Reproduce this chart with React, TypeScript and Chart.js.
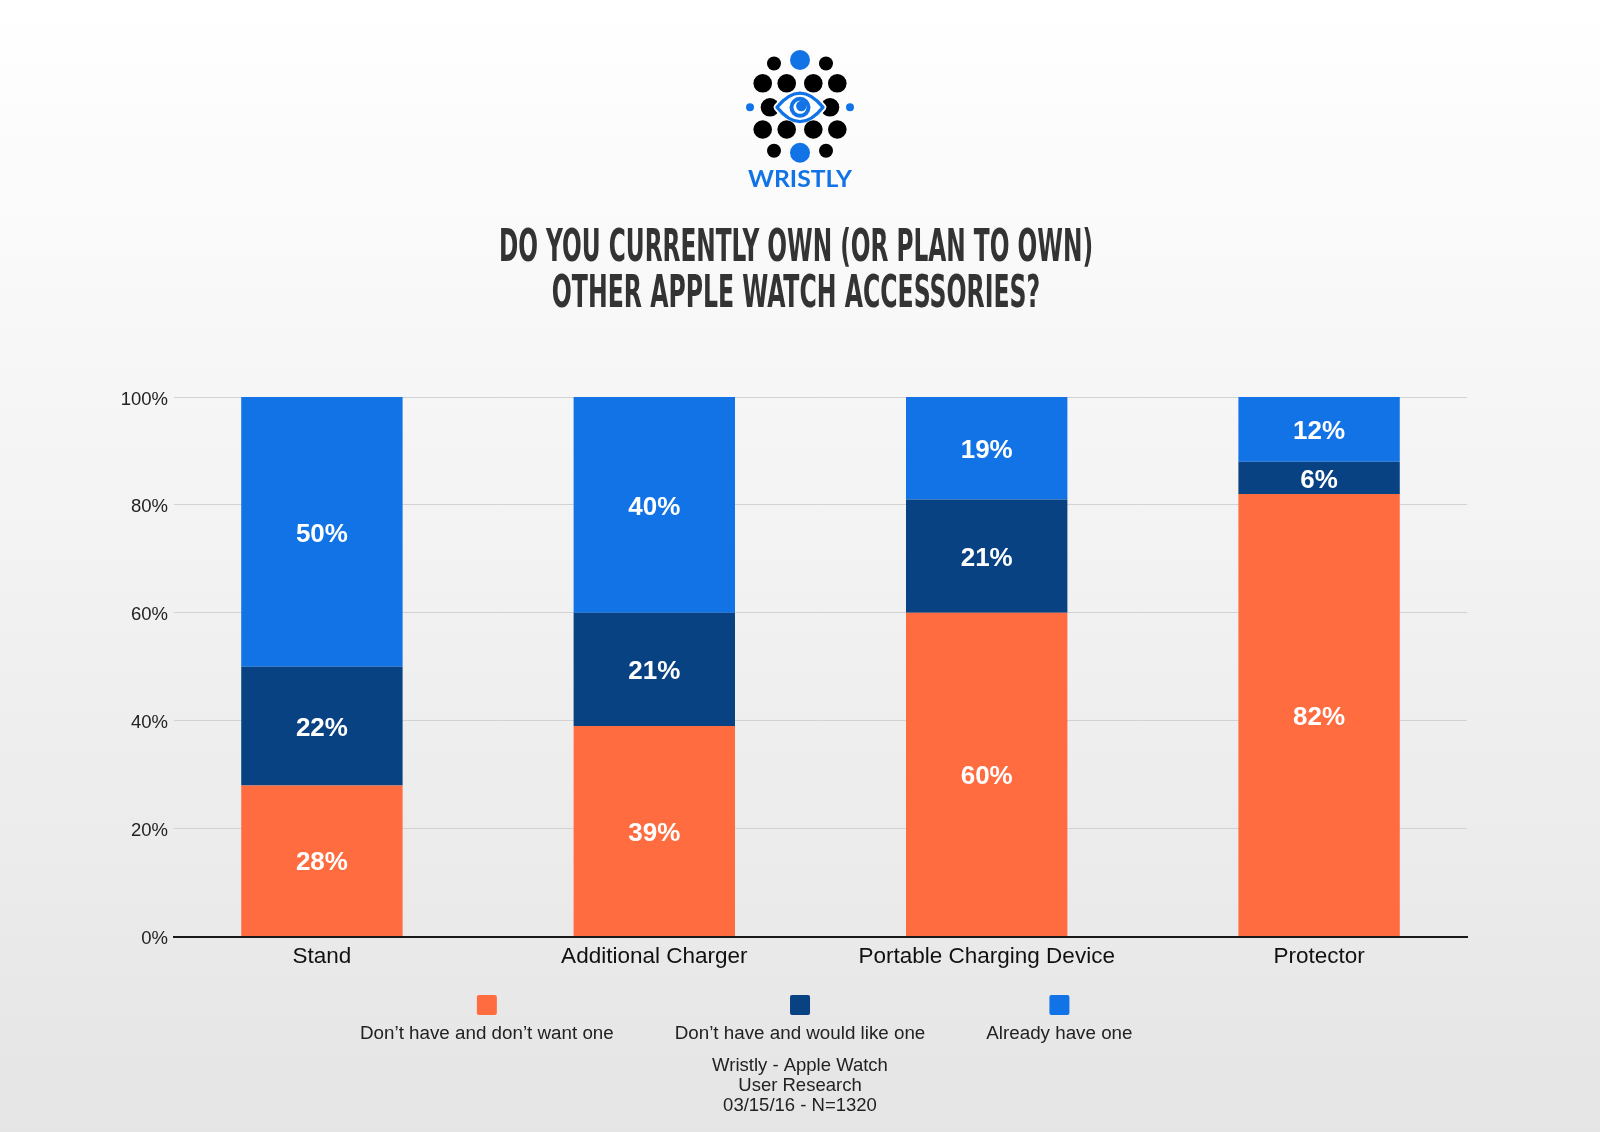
import React, { useEffect, useRef } from "react";
import { Chart, registerables } from "chart.js";

Chart.register(...registerables);

const categories = ["Stand", "Additional Charger", "Portable Charging Device", "Protector"];
const seriesLabels = [
  "Don\u2019t have and don\u2019t want one",
  "Don\u2019t have and would like one",
  "Already have one",
];
const dontWant = [28, 39, 60, 82];
const wouldLike = [22, 21, 21, 6];
const alreadyHave = [50, 40, 19, 12];
const yTicks = [0, 20, 40, 60, 80, 100];
const titleLines = ["DO YOU CURRENTLY OWN (OR PLAN TO OWN)", "OTHER APPLE WATCH ACCESSORIES?"];
const footerLines = ["Wristly - Apple Watch", "User Research", "03/15/16 - N=1320"];
const brandName = "WRISTLY";
const seriesColors = ["#FF6C40", "#084283", "#1173E6"];

const SANS = '"Liberation Sans", Arial, sans-serif';
const BLUE = "#1173E6";

const backgroundPlugin = {
  id: "bg",
  beforeDraw(chart: any) {
    const { ctx, width, height } = chart;
    ctx.save();
    const g = ctx.createLinearGradient(0, 0, 0, height);
    g.addColorStop(0, "#ffffff");
    g.addColorStop(1, "#e5e5e5");
    ctx.fillStyle = g;
    ctx.fillRect(0, 0, width, height);
    ctx.restore();
  },
};

function dot(ctx: CanvasRenderingContext2D, x: number, y: number, r: number, c: string) {
  ctx.beginPath();
  ctx.arc(x, y, r, 0, Math.PI * 2);
  ctx.fillStyle = c;
  ctx.fill();
}

function scaledText(ctx: CanvasRenderingContext2D, text: string, cx: number, y: number, sx: number) {
  ctx.save();
  ctx.translate(cx, y);
  ctx.scale(sx, 1);
  ctx.fillText(text, 0, 0);
  ctx.restore();
}

const decorPlugin = {
  id: "decor",
  afterDraw(chart: any) {
    const ctx: CanvasRenderingContext2D = chart.ctx;
    ctx.save();
    // Logo
    dot(ctx, 800, 60, 10, BLUE);
    dot(ctx, 774, 63.5, 7, "#000");
    dot(ctx, 826, 63.5, 7, "#000");
    [762.7, 786.7, 813.3, 837.3].forEach((x) => dot(ctx, x, 83.3, 9.3, "#000"));
    dot(ctx, 750, 107.3, 4, BLUE);
    dot(ctx, 850, 107.3, 4, BLUE);
    dot(ctx, 770, 107.3, 9.3, "#000");
    dot(ctx, 830, 107.3, 9.3, "#000");
    ctx.beginPath();
    ctx.moveTo(777, 107.3);
    ctx.quadraticCurveTo(800, 79, 823, 107.3);
    ctx.quadraticCurveTo(800, 136, 777, 107.3);
    ctx.closePath();
    ctx.fillStyle = "#fff";
    ctx.fill();
    ctx.lineJoin = "round";
    ctx.lineWidth = 7;
    ctx.strokeStyle = "#fff";
    ctx.stroke();
    ctx.lineWidth = 3.4;
    ctx.strokeStyle = BLUE;
    ctx.stroke();
    dot(ctx, 800, 107.3, 10.5, BLUE);
    dot(ctx, 800, 107.3, 6.5, "#fff");
    dot(ctx, 801.3, 106, 5.2, BLUE);
    [762.7, 786.7, 813.3, 837.3].forEach((x) => dot(ctx, x, 129.5, 9.3, "#000"));
    dot(ctx, 774, 150.7, 7, "#000");
    dot(ctx, 826, 150.7, 7, "#000");
    dot(ctx, 800, 152.7, 10, BLUE);

    // Brand text
    ctx.fillStyle = BLUE;
    ctx.textAlign = "center";
    ctx.textBaseline = "alphabetic";
    ctx.font = 'bold 23.5px Lato, "Open Sans", sans-serif';
    let w = ctx.measureText(brandName).width;
    scaledText(ctx, brandName, 800, 186.7, 104 / w);

    // Title
    ctx.fillStyle = "#333";
    ctx.font = 'bold 44px "Liberation Sans Narrow", "DejaVu Sans Condensed", "Liberation Sans", sans-serif';
    w = ctx.measureText(titleLines[0]).width;
    const sx = 594 / w;
    scaledText(ctx, titleLines[0], 796, 261, sx);
    scaledText(ctx, titleLines[1], 796, 306.5, sx * 1.015);

    // Legend
    ctx.font = `18.8px ${SANS}`;
    ctx.textBaseline = "middle";
    let x = 360;
    chart.data.datasets.forEach((ds: any) => {
      const tw = ctx.measureText(ds.label).width;
      const cx = x + tw / 2;
      ctx.fillStyle = ds.backgroundColor;
      ctx.beginPath();
      (ctx as any).roundRect(cx - 10, 995, 20, 20, 2);
      ctx.fill();
      ctx.fillStyle = "#222";
      ctx.fillText(ds.label, cx, 1034);
      x += tw + 61;
    });

    // Footer
    ctx.font = `18.5px ${SANS}`;
    footerLines.forEach((t, i) => {
      ctx.fillText(t, 800, 1066 + i * 20);
    });
    ctx.restore();
  },
};

const valueLabelPlugin = {
  id: "valueLabels",
  afterDatasetsDraw(chart: any) {
    const ctx: CanvasRenderingContext2D = chart.ctx;
    ctx.save();
    ctx.font = `bold 26px ${SANS}`;
    ctx.fillStyle = "#fff";
    ctx.textAlign = "center";
    ctx.textBaseline = "middle";
    chart.data.datasets.forEach((ds: any, di: number) => {
      const meta = chart.getDatasetMeta(di);
      meta.data.forEach((el: any, i: number) => {
        const v = ds.data[i].y;
        ctx.fillText(`${v}%`, el.x, (el.y + el.base) / 2 + 2.5);
      });
    });
    ctx.restore();
  },
};

export default function App() {
  const ref = useRef<HTMLCanvasElement | null>(null);

  useEffect(() => {
    document.body.style.margin = "0";
    if (!ref.current) return;
    const series = [dontWant, wouldLike, alreadyHave];
    const chart = new Chart(ref.current, {
      type: "bar",
      data: {
        datasets: series.map((vals, i) => ({
          label: seriesLabels[i],
          data: vals.map((v, j) => ({ x: j, y: v })),
          backgroundColor: seriesColors[i],
          borderWidth: 0,
          barPercentage: 0.4855,
          categoryPercentage: 1,
        })),
      },
      options: {
        responsive: false,
        animation: false,
        devicePixelRatio: 1,
        layout: { padding: { left: 74, top: 397, right: 133, bottom: 135.5 } },
        plugins: {
          legend: { display: false },
          title: { display: false },
          tooltip: { enabled: false },
        },
        scales: {
          x: {
            type: "linear",
            stacked: true,
            offset: false,
            min: -0.445,
            max: 3.445,
            grid: { display: false, drawTicks: false, offset: false },
            border: { display: true, color: "#1a1a1a", width: 2 },
            afterBuildTicks: (s: any) => {
              s.ticks = categories.map((_, i) => ({ value: i }));
            },
            afterFit: (s: any) => {
              s.height = 60;
            },
            ticks: {
              autoSkip: false,
              maxRotation: 0,
              padding: 7,
              color: "#111",
              font: { family: SANS, size: 22.5 },
              callback: (v: any) => categories[v] ?? "",
            },
          },
          y: {
            stacked: true,
            min: 0,
            max: 100,
            afterBuildTicks: (s: any) => {
              s.ticks = yTicks.map((v) => ({ value: v }));
            },
            afterFit: (s: any) => {
              s.width = 100;
            },
            grid: { color: "#d2d2d2", lineWidth: 1, drawTicks: false },
            border: { display: false },
            ticks: {
              padding: 6,
              labelOffset: 2.5,
              color: "#222",
              font: { family: SANS, size: 18.5 },
              callback: (v: any) => `${v}%`,
            },
          },
        },
      } as any,
      plugins: [backgroundPlugin, valueLabelPlugin, decorPlugin],
    });
    return () => chart.destroy();
  }, []);

  return (
    <div style={{ width: 1600, height: 1132 }}>
      <canvas ref={ref} width={1600} height={1132} style={{ width: 1600, height: 1132, display: "block" }} />
    </div>
  );
}
